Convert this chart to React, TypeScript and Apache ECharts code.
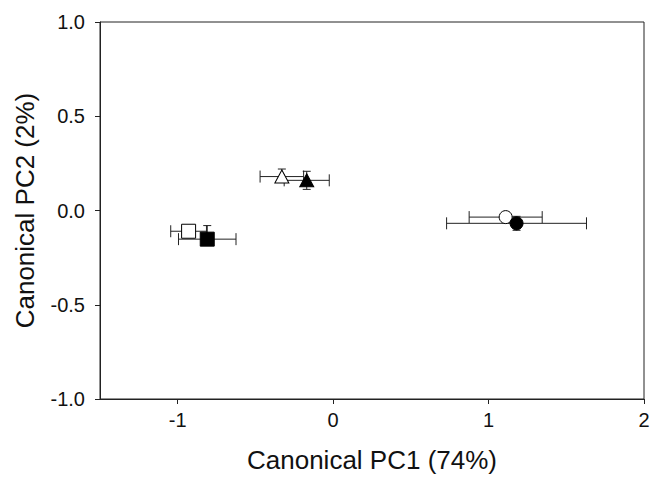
import React, { useEffect, useRef } from "react";
import * as echarts from "echarts";

// Group labels (marker order in the figure)
const groups = ["open square", "filled square", "open triangle", "filled triangle", "open circle", "filled circle"];
// Canonical PC1 means
const pc1 = [-0.93, -0.81, -0.33, -0.17, 1.11, 1.18];
// Canonical PC2 means
const pc2 = [-0.11, -0.152, 0.18, 0.16, -0.035, -0.068];
// Horizontal error (PC1)
const pc1Err = [0.115, 0.185, 0.14, 0.145, 0.235, 0.45];
// Vertical error (PC2) up / down
const pc2ErrUp = [0.01, 0.072, 0.04, 0.048, 0.01, 0.037];
const pc2ErrDown = [0.01, 0.02, 0.03, 0.048, 0.01, 0.037];
// Tick labels
const xTicks = [-1, 0, 1, 2];
const yTicks = [-1.0, -0.5, 0.0, 0.5, 1.0];

const FONT = "'Liberation Sans', Arial, Helvetica, sans-serif";
const INK = "#111";

const markerStyles = [
  { symbol: "rect", size: 14, fill: "#fff" },
  { symbol: "rect", size: 14, fill: "#000" },
  { symbol: "triangle", size: [14, 13], fill: "#fff" },
  { symbol: "triangle", size: [14, 13], fill: "#000" },
  { symbol: "circle", size: 13, fill: "#fff" },
  { symbol: "circle", size: 13, fill: "#000" },
];

export default function App() {
  const ref = useRef<HTMLDivElement>(null);
  useEffect(() => {
    if (!ref.current) return;
    const chart = echarts.init(ref.current, undefined, { renderer: "svg" });
    const errData = groups.map((_, i) => [pc1[i], pc2[i], pc1Err[i], pc2ErrUp[i], pc2ErrDown[i]]);
    const cap = 6;
    const option: any = {
      animation: false,
      backgroundColor: "#fff",
      grid: {
        left: 100,
        right: 16,
        top: 22,
        bottom: 74,
        show: true,
        borderColor: "#222",
        borderWidth: 1,
        backgroundColor: "transparent",
      },
      xAxis: {
        type: "value",
        min: -1.5,
        max: 2,
        name: "Canonical PC1 (74%)",
        nameLocation: "middle",
        nameGap: 48,
        nameTextStyle: { fontFamily: FONT, fontSize: 26, color: INK },
        axisLine: { show: true, onZero: false, lineStyle: { color: "#222", width: 1 } },
        axisTick: { show: true, length: 5, customValues: xTicks, lineStyle: { color: "#222" } },
        axisLabel: {
          customValues: xTicks,
          margin: 11,
          fontFamily: FONT,
          fontSize: 20,
          color: INK,
          formatter: (v: number) => String(v),
        },
        splitLine: { show: false },
      },
      yAxis: {
        type: "value",
        min: -1,
        max: 1,
        interval: 0.5,
        name: "Canonical PC2 (2%)",
        nameLocation: "middle",
        nameGap: 62,
        nameTextStyle: { fontFamily: FONT, fontSize: 26, color: INK },
        axisLine: { show: true, onZero: false, lineStyle: { color: "#222", width: 1 } },
        axisTick: { show: true, length: 5, customValues: yTicks, lineStyle: { color: "#222" } },
        axisLabel: {
          customValues: yTicks,
          margin: 15,
          fontFamily: FONT,
          fontSize: 20,
          color: INK,
          formatter: (v: number) => v.toFixed(1),
        },
        splitLine: { show: false },
      },
      series: [
        {
          type: "custom",
          name: "error bars",
          data: errData,
          encode: { x: 0, y: 1 },
          z: 1,
          renderItem: (params: any, api: any) => {
            const x = api.value(0);
            const y = api.value(1);
            const ex = api.value(2);
            const eu = api.value(3);
            const ed = api.value(4);
            const pl = api.coord([x - ex, y]);
            const pr = api.coord([x + ex, y]);
            const pt = api.coord([x, y + eu]);
            const pb = api.coord([x, y - ed]);
            const st = { stroke: "#222", lineWidth: 1 };
            return {
              type: "group",
              children: [
                { type: "line", shape: { x1: pl[0], y1: pl[1], x2: pr[0], y2: pr[1] }, style: st },
                { type: "line", shape: { x1: pl[0], y1: pl[1] - cap, x2: pl[0], y2: pl[1] + cap }, style: st },
                { type: "line", shape: { x1: pr[0], y1: pr[1] - cap, x2: pr[0], y2: pr[1] + cap }, style: st },
                { type: "line", shape: { x1: pt[0], y1: pt[1], x2: pb[0], y2: pb[1] }, style: st },
                { type: "line", shape: { x1: pt[0] - 4, y1: pt[1], x2: pt[0] + 4, y2: pt[1] }, style: st },
                { type: "line", shape: { x1: pb[0] - 4, y1: pb[1], x2: pb[0] + 4, y2: pb[1] }, style: st },
              ],
            };
          },
        },
        ...groups.map((g, i) => ({
          type: "scatter",
          name: g,
          z: 3 + i,
          symbol: markerStyles[i].symbol,
          symbolSize: markerStyles[i].size,
          itemStyle: { color: markerStyles[i].fill, borderColor: "#000", borderWidth: 1, opacity: 1 },
          data: [[pc1[i], pc2[i]]],
        })),
      ],
    };
    chart.setOption(option);
    return () => chart.dispose();
  }, []);
  return (
    <div
      ref={ref}
      style={{ position: "fixed", left: 0, top: 0, width: 660, height: 478, background: "#fff" }}
    />
  );
}
